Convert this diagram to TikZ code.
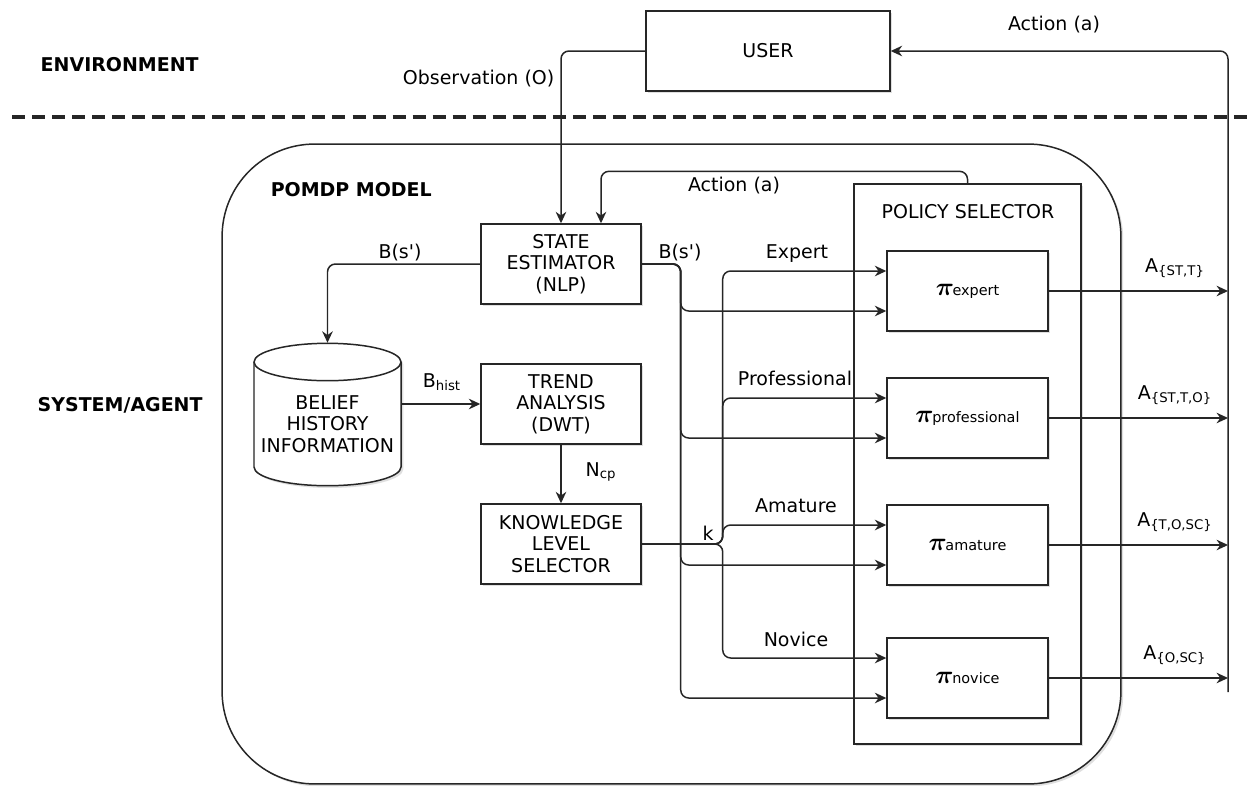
\documentclass[tikz,border=0pt]{standalone}
\usepackage{fontspec}
\setmainfont{DejaVu Sans}
\usepackage{bm}
\usetikzlibrary{arrows.meta, positioning, shadows, calc}
\definecolor{lineGray}{gray}{0.15}

\newcommand{\polname}[1]{{\fontsize{14}{14}\selectfont$\bm{\pi}$}\kern-0.8pt{\fontsize{8.2}{9}\selectfont #1}}
\newcommand{\bsp}{B(s\textquotesingle)}

\begin{document}
\begin{tikzpicture}[x=0.02cm, y=-0.02cm, >={Stealth[length=6.5pt,width=6pt]},
    font=\fontsize{10.8}{12.3}\selectfont, line width=0.85pt, draw=lineGray,
    shade/.style={drop shadow={shadow xshift=1.3pt, shadow yshift=-1.3pt, opacity=0.25}},
    box/.style={draw=lineGray, fill=white, shade, minimum width=3.2cm, minimum height=1.6cm, align=center, inner sep=2pt},
    lbl/.style={inner sep=0pt},
    hdr/.style={inner sep=0pt, anchor=west, font=\fontsize{10.8}{12.3}\selectfont\bfseries},
    conn/.style={draw=lineGray, rounded corners=4.5pt}]
    \useasboundingbox (0,0) rectangle (1248,785);

    % environment / agent split
    \node[hdr] (env) at (40,65) {ENVIRONMENT};
    \node[hdr] (sys) at (37,405) {SYSTEM/AGENT};
    \draw[lineGray, line width=2.3pt, dash pattern=on 7.4pt off 4pt] (12,117) -- (1248,117);

    \node[box, minimum width=4.88cm] (usr) at (768,51) {USER};

    % POMDP model container
    \node[draw=lineGray, fill=white, shade, rounded corners=1.85cm, minimum width=17.98cm, minimum height=12.8cm] (pomdp) at (671.5,464) {};
    \node[hdr] (pmlab) at (270,190) {POMDP MODEL};

    \node[draw=lineGray, fill=white, shade, minimum width=4.54cm, minimum height=11.2cm] (psel) at (967.5,464) {};
    \node[lbl] (pslab) at (968,212) {POLICY SELECTOR};

    \node[box] (se) at (561,264) {STATE\\ESTIMATOR\\(NLP)};
    \node[box] (ta) at (561,404) {TREND\\ANALYSIS\\(DWT)};
    \node[box] (kls) at (561,544) {KNOWLEDGE\\LEVEL\\SELECTOR};

    % belief history store
    \draw[lineGray, fill=white, shade] (254,362) -- (254,467)
        arc[start angle=180, end angle=0, x radius=73.5, y radius=18.7] -- (401,362)
        arc[start angle=0, end angle=-180, x radius=73.5, y radius=18.7] -- cycle;
    \draw[lineGray] (254,362) arc[start angle=180, end angle=0, x radius=73.5, y radius=18.7];
    \node[minimum width=2.94cm, minimum height=2.84cm, inner sep=0pt] (bhi) at (327.5,414.5) {};
    \node[lbl, align=center] (bhitxt) at (327.5,424) {BELIEF\\HISTORY\\INFORMATION};

    \node[box, minimum width=3.22cm] (pex) at (967.5,291) {\polname{expert}};
    \node[box, minimum width=3.22cm] (ppr) at (967.5,418) {\polname{professional}};
    \node[box, minimum width=3.22cm] (pam) at (967.5,545) {\polname{amature}};
    \node[box, minimum width=3.22cm] (pno) at (967.5,678) {\polname{novice}};

    \coordinate (aend) at (1228,692);

    % environment loop
    \draw[conn, ->] (usr.west) -| (se.north);
    \node[lbl, anchor=east] (obs) at (555,79) {Observation (O)};
    \draw[conn, ->] (aend) |- (usr.east);
    \node[lbl] (acttop) at (1054,25) {Action (a)};
    \draw[conn, ->] (psel.north) -- ++(0,-12) -| ($(se.north)+(40,0)$);
    \node[lbl] (actin) at (734,186) {Action (a)};

    % belief flow
    \draw[conn, ->] (se.west) -| (bhi.north);
    \node[lbl] (bsl) at (400,253) {\bsp};
    \draw[conn, ->] (bhi.east |- ta.west) -- (ta.west);
    \node[lbl] (bhl) at (442,382) {B\textsubscript{hist}};
    \draw[conn, ->] (ta.south) -- (kls.north);
    \node[lbl] (ncp) at (601,472) {N\textsubscript{cp}};

    \foreach \p in {pex, ppr, pam, pno} {
        \draw[conn, ->] (se.east) -- ++(39,0) |- ($(\p.west)+(0,20)$);
        \draw[conn, ->] (kls.east) -- ++(81,0) |- ($(\p.west)+(0,-20)$);
    }
    \node[lbl] (bsr) at (680,253) {\bsp};
    \node[lbl] (kl) at (708,533) {k};

    \node[lbl] (lex) at (797,254) {Expert};
    \node[lbl] (lpr) at (795,378) {Professional};
    \node[lbl] (lam) at (796,506) {Amature};
    \node[lbl] (lno) at (796,639) {Novice};

    % policy outputs
    \draw[->] (pex.east) -- (pex.east -| aend);
    \draw[->] (ppr.east) -- (ppr.east -| aend);
    \draw[->] (pam.east) -- (pam.east -| aend);
    \draw[->] (pno.east) -- (pno.east -| aend);
    \node[lbl, anchor=base] (aex) at (1175,272) {A\textsubscript{\{ST,T\}}};
    \node[lbl, anchor=base] (apr) at (1175,399) {A\textsubscript{\{ST,T,O\}}};
    \node[lbl, anchor=base] (aam) at (1175,526) {A\textsubscript{\{T,O,SC\}}};
    \node[lbl, anchor=base] (ano) at (1175,659) {A\textsubscript{\{O,SC\}}};
\end{tikzpicture}
\end{document}
